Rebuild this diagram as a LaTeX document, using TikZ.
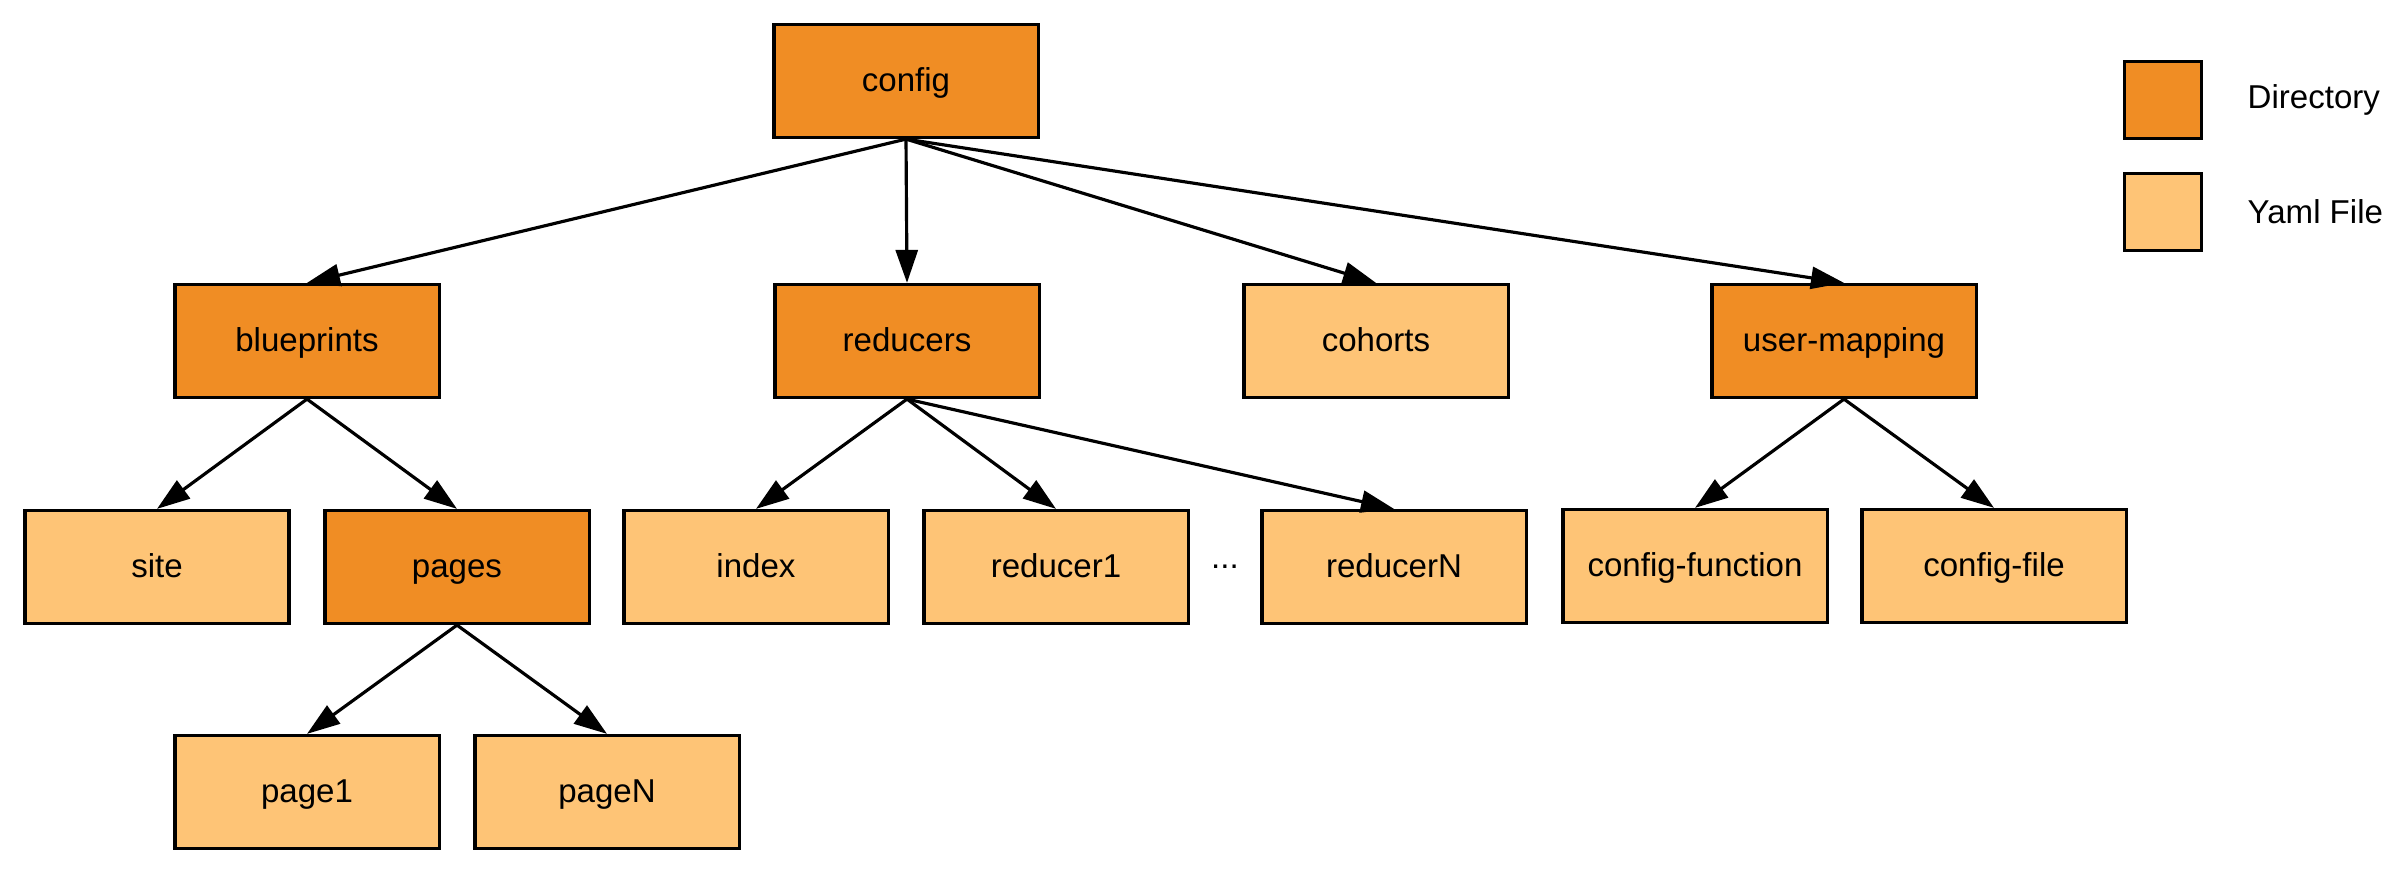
\documentclass[tikz,border=0pt]{standalone}
\usepackage{fontspec}
\setmainfont{Liberation Sans}
\usetikzlibrary{arrows.meta,positioning}
\definecolor{dirorange}{HTML}{F08D24}
\definecolor{yamlorange}{HTML}{FEC476}

\begin{document}
\begin{tikzpicture}[x=0.01cm, y=-0.01cm,
    box/.style={rectangle, draw, line width=0.9pt, minimum width=2.64cm, minimum height=1.13cm, inner sep=0pt, text height=1.55ex, text depth=0.45ex, font=\fontsize{9.4}{11}\selectfont},
    dir/.style={box, fill=dirorange},
    yaml/.style={box, fill=yamlorange},
    swatch/.style={rectangle, draw, line width=0.9pt, minimum size=0.77cm, inner sep=0pt},
    keytext/.style={anchor=west, inner sep=0pt, font=\fontsize{9.4}{11}\selectfont},
    link/.style={-{Triangle[length=0.33cm, width=0.22cm]}, line width=0.9pt}]
  \useasboundingbox (0,0) rectangle (2406,883);

  \node (config) [dir] at (906,81) {config};

  \node (blueprints) [dir] at (307,341) {blueprints};
  \node (reducers) [dir] at (907,341) {reducers};
  \node (cohorts) [yaml] at (1376,341) {cohorts};
  \node (usermapping) [dir] at (1844,341) {user-mapping};

  \node (site) [yaml] at (157,567) {site};
  \node (pages) [dir] at (457,567) {pages};
  \node (index) [yaml] at (756,567) {index};
  \node (reducer1) [yaml] at (1056,567) {reducer1};
  \node (dots) [font=\fontsize{9.4}{11}\selectfont] at (1225,567) {...};
  \node (reducerN) [yaml] at (1394,567) {reducerN};
  \node (configfunction) [yaml] at (1695,566) {config-function};
  \node (configfile) [yaml] at (1994,566) {config-file};

  \node (page1) [yaml] at (307,792) {page1};
  \node (pageN) [yaml] at (607,792) {pageN};

  % legend
  \node (dirkey) [swatch, fill=dirorange] at (2163,100) {};
  \node (yamlkey) [swatch, fill=yamlorange] at (2163,212) {};
  \node (dirlabel) [keytext] at (2247,100) {Directory};
  \node (yamllabel) [keytext] at (2247,212) {Yaml File};

  \draw [link] (config.south) -- (blueprints.north);
  \draw [link] (config.south) -- (reducers.north);
  \draw [link] (config.south) -- (cohorts.north);
  \draw [link] (config.south) -- (usermapping.north);
  \draw [link] (blueprints.south) -- (site.north);
  \draw [link] (blueprints.south) -- (pages.north);
  \draw [link] (reducers.south) -- (index.north);
  \draw [link] (reducers.south) -- (reducer1.north);
  \draw [link] (reducers.south) -- (reducerN.north);
  \draw [link] (usermapping.south) -- (configfunction.north);
  \draw [link] (usermapping.south) -- (configfile.north);
  \draw [link] (pages.south) -- (page1.north);
  \draw [link] (pages.south) -- (pageN.north);
\end{tikzpicture}
\end{document}
